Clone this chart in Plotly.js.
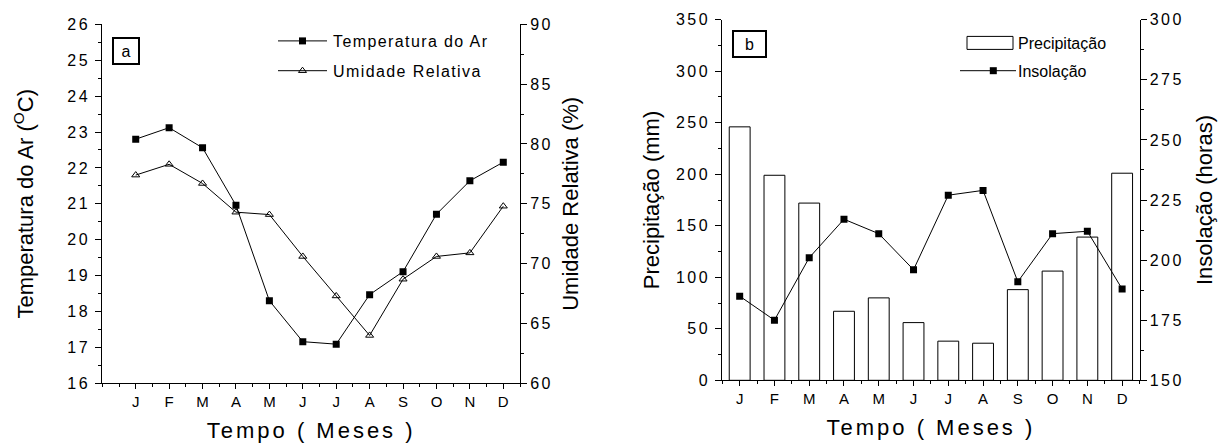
<!DOCTYPE html>
<html>
<head>
<meta charset="utf-8">
<script src="https://cdn.plot.ly/plotly-3.0.1.min.js"></script>
<style>
  html, body { margin: 0; padding: 0; background: #fff; }
  #chart { width: 1219px; height: 443px; }
  .legendtext { letter-spacing: 1.4px; }
  .ytick text, .y2tick text, .y3tick text, .y4tick text { letter-spacing: 2.5px; }
  .xtitle, .x2title { letter-spacing: 3px; }
</style>
</head>
<body>
<div id="chart"></div>
<script>
// ---- data ----
const months = ['J','F','M','A','M','J','J','A','S','O','N','D'];
const temperatura = [22.8, 23.12, 22.56, 20.96, 18.3, 17.16, 17.09, 18.47, 19.11, 20.71, 21.64, 22.16];
const umidade = [77.4, 78.3, 76.7, 74.3, 74.1, 70.6, 67.3, 64.0, 68.7, 70.6, 70.9, 74.8];
const precipitacao = [246, 199, 172, 67, 80, 56, 38, 36, 88, 106, 139, 201];
const insolacao = [185, 175, 201, 217, 211, 196, 227, 229, 191, 211, 212, 188];

const xIdx = months.map((m, i) => i + 1);
const FONT = 'Liberation Sans, Arial, sans-serif';
const W = 1219, H = 443;
const px = v => v / W;
const py = v => 1 - v / H;

const traces = [
  { x: xIdx, y: temperatura, name: 'Temperatura do Ar', type: 'scatter', mode: 'lines+markers',
    xaxis: 'x', yaxis: 'y', legend: 'legend', legendgroup: 'a1',
    line: { color: '#000', width: 1 }, marker: { symbol: 'square', size: 7, color: '#000' } },
  { x: xIdx, y: umidade, name: 'Umidade Relativa', type: 'scatter', mode: 'lines+markers',
    xaxis: 'x', yaxis: 'y2', legend: 'legend', legendgroup: 'a2',
    line: { color: '#000', width: 1 }, marker: { symbol: 'triangle-up-open', size: 7, color: '#000', line: { width: 1 } } },
  { x: xIdx, y: precipitacao, name: 'Precipitação', type: 'bar', width: 0.6,
    xaxis: 'x2', yaxis: 'y3', legend: 'legend2', legendgroup: 'b1',
    marker: { color: '#fff', line: { color: '#000', width: 1 } } },
  { x: xIdx, y: insolacao, name: 'Insolação', type: 'scatter', mode: 'lines+markers',
    xaxis: 'x2', yaxis: 'y4', legend: 'legend2', legendgroup: 'b2',
    line: { color: '#000', width: 1 }, marker: { symbol: 'square', size: 7, color: '#000' } }
];

// legend sample geometry (local legend-item coordinates), to give the long samples of the reference
const legendSamples = [
  { line: 'M5,0h49', mark: 29.5 },    // Temperatura do Ar
  { line: 'M5,0h49', mark: 29.5 },    // Umidade Relativa
  { bar: 'M9,-6.5h46v13h-46Z' },      // Precipitação
  { line: 'M2,0h56', mark: 35.3 }     // Insolação
];

const tickFont = { family: FONT, size: 16, color: '#000' };
const monthFont = { family: FONT, size: 15, color: '#000' };
const titleFont = { family: FONT, size: 22, color: '#000' };

function xBottom(domain, range, anchor, title) {
  return {
    domain: domain, range: range, anchor: anchor,
    tickmode: 'array', tickvals: xIdx, ticktext: months,
    ticks: 'outside', ticklen: 5, tickwidth: 1, tickcolor: '#000',
    minor: { tickmode: 'linear', tick0: 0, dtick: 0.5, ticks: 'outside', ticklen: 3, tickwidth: 1, tickcolor: '#000' },
    showline: true, linecolor: '#000', linewidth: 1, showgrid: false, zeroline: false,
    tickfont: monthFont, fixedrange: true,
    title: { text: title, font: titleFont, standoff: 13 }
  };
}
function xTop(over, range, anchor) {
  return {
    overlaying: over, side: 'top', range: range, anchor: anchor,
    tickmode: 'array', tickvals: xIdx, showticklabels: false,
    ticks: 'inside', ticklen: 4, tickwidth: 1, tickcolor: '#000',
    minor: { tickmode: 'linear', tick0: 0, dtick: 0.5, ticks: 'inside', ticklen: 3, tickwidth: 1, tickcolor: '#000' },
    showline: true, linecolor: '#000', linewidth: 1, showgrid: false, zeroline: false, fixedrange: true
  };
}
function yAx(opts) {
  return Object.assign({
    ticks: 'outside', ticklen: 6, tickwidth: 1, tickcolor: '#000',
    showline: true, linecolor: '#000', linewidth: 1, showgrid: false, zeroline: false,
    tickfont: tickFont, fixedrange: true
  }, opts);
}

const layout = {
  width: W, height: H, autosize: false,
  margin: { l: 0, r: 0, t: 0, b: 0, pad: 0 },
  paper_bgcolor: '#fff', plot_bgcolor: 'rgba(0,0,0,0)',
  font: { family: FONT, color: '#000' },
  showlegend: true,
  xaxis: xBottom([px(102.3), px(520)], [0, 12.5], 'y', 'Tempo ( Meses )'),
  xaxis3: xTop('x', [0, 12.5], 'y'),
  yaxis: yAx({ domain: [py(383.3), py(24.3)], range: [16, 26], dtick: 1, anchor: 'x', ticklabelstandoff: 2,
    minor: { dtick: 0.5, ticks: 'outside', ticklen: 3, tickwidth: 1, tickcolor: '#000' },
    title: { text: 'Temperatura do Ar (<sup>O</sup>C)', font: titleFont, standoff: 27 } }),
  yaxis2: yAx({ overlaying: 'y', side: 'right', anchor: 'x', range: [60, 90], dtick: 5,
    minor: { dtick: 2.5, ticks: 'outside', ticklen: 3, tickwidth: 1, tickcolor: '#000' },
    title: { text: 'Umidade Relativa (%)', font: titleFont, standoff: 10 } }),
  xaxis2: xBottom([px(722.3), px(1139.5)], [0.5, 12.5], 'y3', 'Tempo ( Meses )'),
  xaxis4: xTop('x2', [0.5, 12.5], 'y3'),
  yaxis3: yAx({ domain: [py(380.3), py(19.7)], range: [0, 350], dtick: 50, anchor: 'x2', ticklabelstandoff: 2,
    minor: { dtick: 25, ticks: 'outside', ticklen: 3, tickwidth: 1, tickcolor: '#000' },
    title: { text: 'Precipitação (mm)', font: titleFont, standoff: 10 } }),
  yaxis4: yAx({ overlaying: 'y3', side: 'right', anchor: 'x2', range: [150, 300], dtick: 25,
    minor: { dtick: 12.5, ticks: 'outside', ticklen: 3, tickwidth: 1, tickcolor: '#000' },
    title: { text: 'Insolação (horas)', font: titleFont, standoff: 13 } }),
  legend: { x: px(273), y: py(24), xanchor: 'left', yanchor: 'top', bgcolor: 'rgba(0,0,0,0)',
    borderwidth: 0, font: { family: FONT, size: 16, color: '#000' }, traceorder: 'grouped',
    tracegroupgap: 6, itemwidth: 50 },
  legend2: { x: px(958), y: py(26), xanchor: 'left', yanchor: 'top', bgcolor: 'rgba(0,0,0,0)',
    borderwidth: 0, font: { family: FONT, size: 16, color: '#000' }, traceorder: 'grouped',
    tracegroupgap: 4, itemwidth: 50 },
  annotations: [
    { text: 'a', xref: 'paper', yref: 'paper', x: px(112.3), y: py(37.3), xanchor: 'left', yanchor: 'top',
      showarrow: false, width: 24, height: 24, borderwidth: 2, bordercolor: '#000', borderpad: 0,
      font: { family: FONT, size: 16, color: '#000' } },
    { text: 'b', xref: 'paper', yref: 'paper', x: px(731.7), y: py(30), xanchor: 'left', yanchor: 'top',
      showarrow: false, width: 31, height: 24, borderwidth: 2, bordercolor: '#000', borderpad: 0,
      font: { family: FONT, size: 16, color: '#000' } }
  ]
};

const gdEl = document.getElementById('chart');
function fixLegendSamples() {
  // each legend item is bound (d3 __data__) to its trace's calcdata; use the trace index
  gdEl.querySelectorAll('g.traces').forEach(g => {
    const cd = g.__data__;
    let idx = -1;
    if (cd && cd[0] && cd[0].trace) idx = cd[0].trace.index;
    const cfg = legendSamples[idx];
    if (!cfg) return;
    if (cfg.line) {
      g.querySelectorAll('g.legendlines path').forEach(p => {
        if (p.getAttribute('d') !== cfg.line) p.setAttribute('d', cfg.line);
      });
      const tr = 'translate(' + cfg.mark + ',0)';
      g.querySelectorAll('g.legendpoints path').forEach(p => {
        if (p.getAttribute('transform') !== tr) p.setAttribute('transform', tr);
      });
    }
    if (cfg.bar) {
      g.querySelectorAll('g.legendpoints path').forEach(p => {
        if (p.getAttribute('d') !== cfg.bar) p.setAttribute('d', cfg.bar);
        if (p.getAttribute('transform') !== 'translate(0,0)') p.setAttribute('transform', 'translate(0,0)');
      });
    }
  });
  // drop empty placeholder text nodes
  gdEl.querySelectorAll('svg text').forEach(t => {
    if (!(t.textContent || '').trim()) t.remove();
  });
}
const obs = new MutationObserver(fixLegendSamples);
obs.observe(gdEl, { subtree: true, childList: true, attributes: true, attributeFilter: ['d', 'transform'] });

Plotly.newPlot(gdEl, traces, layout, { staticPlot: true, displayModeBar: false }).then(() => {
  fixLegendSamples();
  // remove Plotly's hidden off-screen measuring texts once drawing is finished
  document.querySelectorAll('#js-plotly-tester text').forEach(t => t.remove());
  setTimeout(fixLegendSamples, 200);
});
</script>
</body>
</html>
